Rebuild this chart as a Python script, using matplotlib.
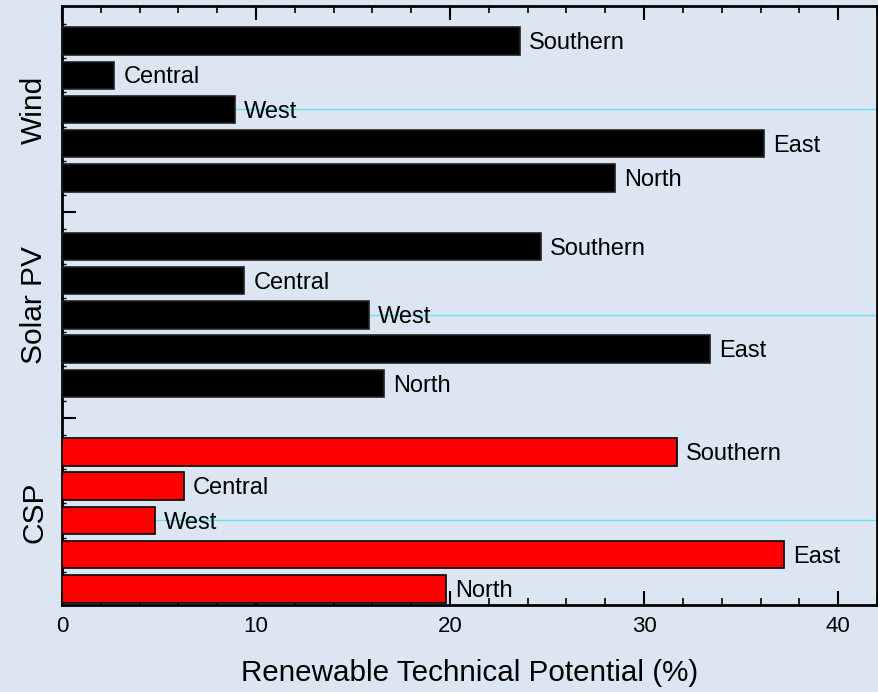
import matplotlib.pyplot as plt
import numpy as np
from matplotlib.ticker import FixedLocator, MultipleLocator
import matplotlib.transforms as mtransforms

plt.rcParams['font.family'] = ['Liberation Sans', 'DejaVu Sans']

# regions listed bottom to top inside each group
regions = ['North', 'East', 'West', 'Central', 'Southern']
groups = ['CSP', 'Solar PV', 'Wind']
csp = [19.8, 37.2, 4.8, 6.3, 31.7]
solar_pv = [16.6, 33.4, 15.8, 9.4, 24.7]
wind = [28.5, 36.2, 8.9, 2.7, 23.6]
group_colors = ['#ff0000', 'black', 'black']
group_label_pos = [2.23, 8.3, 14.0]

bg = '#dce6f2'
fig = plt.figure(figsize=(8.79, 6.92), dpi=100, facecolor=bg)
ax = fig.add_axes([0.0705, 0.1257, 0.9272, 0.8656], facecolor=bg)

xmax = 42
for g, (vals, color) in enumerate(zip([csp, solar_pv, wind], group_colors)):
    y = np.arange(5) + 6 * g
    ax.barh(y, vals, height=0.8, color=color,
            edgecolor='#202020' if color == 'black' else 'black',
            linewidth=1.2, zorder=3)
    # faint line running out from the West bar
    iw = regions.index('West')
    ax.hlines(y[iw], vals[iw], xmax, color='#5ee6f0', lw=1.0, zorder=1)
    for yy, v, name in zip(y, vals, regions):
        ax.annotate(name, (v, yy), xytext=(6.5, -1.5), textcoords='offset points',
                    ha='left', va='center', fontsize=17, zorder=4)

trans = mtransforms.blended_transform_factory(ax.transAxes, ax.transData)
for name, pos in zip(groups, group_label_pos):
    ax.text(-0.034, pos, name, transform=trans, rotation=90,
            ha='center', va='center', fontsize=21.5)

ax.set_xlim(0, xmax)
ax.set_ylim(-0.47, 17.02)

ax.xaxis.set_major_locator(MultipleLocator(10))
ax.xaxis.set_minor_locator(MultipleLocator(2))
ax.yaxis.set_major_locator(FixedLocator([5, 11]))
ax.yaxis.set_minor_locator(FixedLocator(np.arange(-0.5, 17, 1.0)))
ax.set_yticklabels([])

ax.tick_params(axis='x', which='major', direction='in', length=10, width=1.5,
               labelsize=16, pad=8, top=True)
ax.tick_params(axis='x', which='minor', direction='in', length=5, width=1.2,
               top=True)
ax.tick_params(axis='y', which='major', direction='in', length=10, width=1.5)
ax.tick_params(axis='y', which='minor', direction='in', length=3, width=1.0)

for side in ['left', 'right', 'top', 'bottom']:
    ax.spines[side].set_linewidth(2)
    ax.spines[side].set_color('black')

ax.set_xlabel('Renewable Technical Potential (%)', fontsize=21.3, labelpad=16)

fig.savefig('out.png', dpi=100, facecolor=bg)
